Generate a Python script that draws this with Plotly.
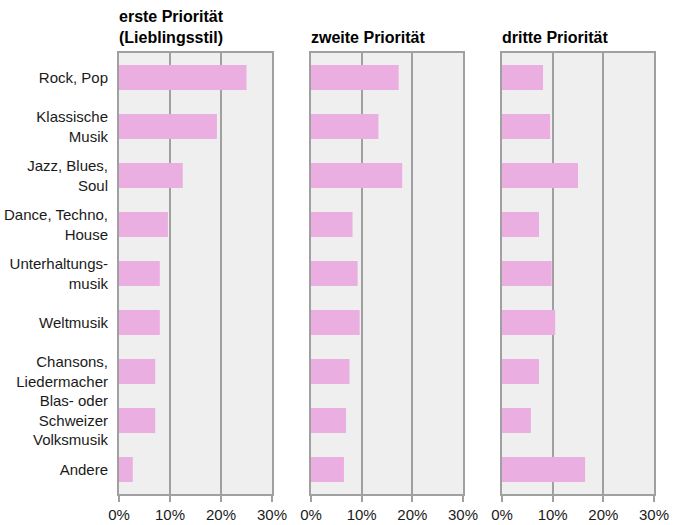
import plotly.graph_objects as go

categories = ["Rock, Pop", "Klassische<br>Musik", "Jazz, Blues,<br>Soul", "Dance, Techno,<br>House",
              "Unterhaltungs-<br>musik", "Weltmusik", "Chansons,<br>Liedermacher",
              "Blas- oder<br>Schweizer<br>Volksmusik", "Andere"]
erste = [25.0, 19.2, 12.5, 9.6, 8.0, 8.0, 7.1, 7.1, 2.7]
zweite = [17.3, 13.3, 18.0, 8.2, 9.2, 9.6, 7.6, 6.9, 6.5]
dritte = [8.1, 9.5, 15.0, 7.3, 9.8, 10.5, 7.3, 5.7, 16.4]
titles = ["erste Priorität<br>(Lieblingsstil)", "zweite Priorität", "dritte Priorität"]
tick_vals = [0, 10, 20, 30]
tick_text = ["0%", "10%", "20%", "30%"]

W, H = 675, 525
domains = [(119 / W, 272 / W), (311 / W, 463 / W), (502 / W, 654 / W)]
bar_color = "#EBAEE0"
grid_color = "#A0A0A0"
font_family = "Liberation Sans, Arial, sans-serif"

fig = go.Figure()
series = [erste, zweite, dritte]
for i, vals in enumerate(series):
    sfx = "" if i == 0 else str(i + 1)
    fig.add_trace(go.Bar(
        x=[v / 100 for v in vals], y=list(range(len(categories))), orientation="h",
        width=0.51, marker=dict(color=bar_color, line=dict(width=0)),
        xaxis="x" + sfx, yaxis="y" + sfx, showlegend=False, hoverinfo="skip"))

layout = dict(
    width=W, height=H, margin=dict(l=0, r=0, t=53, b=31, autoexpand=False),
    paper_bgcolor="white", plot_bgcolor="#EFEFEF",
    font=dict(family=font_family, size=14, color="#1a1a1a"),
    bargap=0.49,
)
annotations = []
for i in range(3):
    sfx = "" if i == 0 else str(i + 1)
    layout["xaxis" + sfx] = dict(
        domain=list(domains[i]), range=[0, 0.30], anchor="y" + sfx,
        tickvals=[t / 100 for t in tick_vals], ticktext=tick_text,
        showgrid=True, gridcolor=grid_color, gridwidth=2,
        showline=True, linecolor=grid_color, linewidth=2, mirror=True,
        ticks="outside", ticklen=6, tickwidth=2, tickcolor=grid_color,
        zeroline=False, tickfont=dict(size=15, color="#1a1a1a"),
        fixedrange=True, automargin=False,
    )
    layout["yaxis" + sfx] = dict(
        domain=[0, 1], anchor="x" + sfx, range=[len(categories) - 0.5, -0.5],
        tickvals=list(range(len(categories))), ticktext=categories,
        showticklabels=(i == 0), showgrid=False, zeroline=False,
        showline=True, linecolor=grid_color, linewidth=2, mirror=True,
        ticks="", ticklabelstandoff=6, tickfont=dict(size=15, color="#1a1a1a"),
        fixedrange=True, automargin=False,
    )
    annotations.append(dict(
        text="<b>" + titles[i] + "</b>", xref="paper", yref="paper",
        x=domains[i][0], y=1.012, xanchor="left", yanchor="bottom", align="left",
        xshift=-2, showarrow=False,
        font=dict(size=16, color="#000000", family=font_family)))
layout["annotations"] = annotations
fig.update_layout(**layout)
fig.write_html("out.html", config={"displayModeBar": False},
               post_script="document.body.style.margin='0';")
